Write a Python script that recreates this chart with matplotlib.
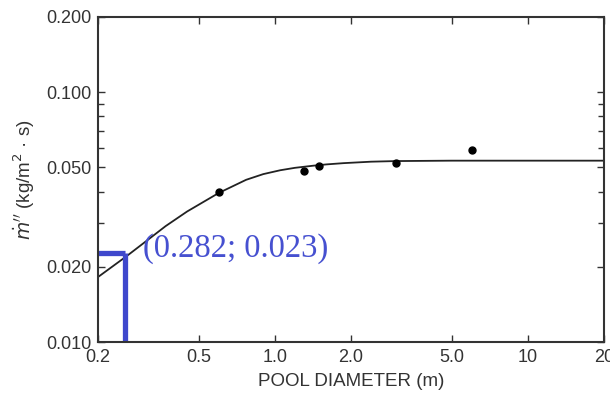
import matplotlib
matplotlib.use("Agg")
import matplotlib.pyplot as plt
from matplotlib.ticker import FixedLocator, NullFormatter, NullLocator

# values
diam_curve = [0.2, 0.26, 0.3, 0.37, 0.45, 0.6, 0.77, 0.9, 1.05, 1.2, 1.42, 1.6, 1.87, 2.4, 3.0, 5.0, 10.0, 20.0]
rate_curve = [0.0182, 0.0221, 0.0247, 0.0291, 0.0333, 0.0395, 0.0446, 0.0470, 0.0487, 0.0498, 0.0508, 0.0514, 0.0520, 0.0527, 0.0530, 0.0532, 0.0532, 0.0532]

diam_pts = [0.6, 1.3, 1.49, 3.0, 6.0]
rate_pts = [0.0398, 0.0484, 0.0507, 0.0521, 0.0587]

mark_x = 0.256
mark_y = 0.0227
mark_text = "(0.282; 0.023)"

xticks = [0.2, 0.5, 1.0, 2.0, 5.0, 10, 20]
xlabels = ["0.2", "0.5", "1.0", "2.0", "5.0", "10", "20"]
yticks = [0.010, 0.020, 0.050, 0.100, 0.200]
ylabels = ["0.010", "0.020", "0.050", "0.100", "0.200"]
yminor = [0.03, 0.04, 0.06, 0.07, 0.08, 0.09]

plt.rcParams['font.family'] = ['Liberation Sans', 'DejaVu Sans']

fig = plt.figure(figsize=(6.1, 3.98), dpi=100)
ax = fig.add_axes([0.1607, 0.1407, 0.8295, 0.8166])
ax.set_xscale('log')
ax.set_yscale('log')
ax.set_xlim(0.2, 20)
ax.set_ylim(0.01, 0.2)

ax.plot(diam_curve, rate_curve, color='#222222', lw=1.3)
ax.plot(diam_pts, rate_pts, 'o', color='black', ms=5)

blue = '#3f48cc'
ax.plot([0.2, mark_x], [mark_y, mark_y], color=blue, lw=3.8, solid_capstyle='butt')
ax.plot([mark_x, mark_x], [mark_y, 0.01], color=blue, lw=3.8, solid_capstyle='butt')
ax.text(0.30, 0.0236, mark_text, color='#4650d0', fontsize=23.5,
        family=['Liberation Serif', 'DejaVu Serif'], va='center', ha='left')

ax.xaxis.set_major_locator(FixedLocator(xticks))
ax.set_xticklabels(xlabels)
ax.xaxis.set_minor_locator(NullLocator())
ax.yaxis.set_major_locator(FixedLocator(yticks))
ax.set_yticklabels(ylabels)
ax.yaxis.set_minor_locator(FixedLocator(yminor))
ax.yaxis.set_minor_formatter(NullFormatter())

ax.tick_params(which='both', direction='in', top=True, right=True,
               color='#333333', labelcolor='#333333', labelsize=13, pad=5)
ax.tick_params(which='major', length=5, width=1)
ax.tick_params(which='minor', length=4, width=1)
for s in ax.spines.values():
    s.set_linewidth(1.5)
    s.set_color('#333333')

ax.set_xlabel("POOL DIAMETER (m)", fontsize=13.5, color='#333333', labelpad=5)
ax.set_ylabel("$\\dot{m}''$ (kg/m$^2$ · s)", fontsize=13.5, color='#333333', labelpad=6)

fig.savefig("out.png", dpi=100)
